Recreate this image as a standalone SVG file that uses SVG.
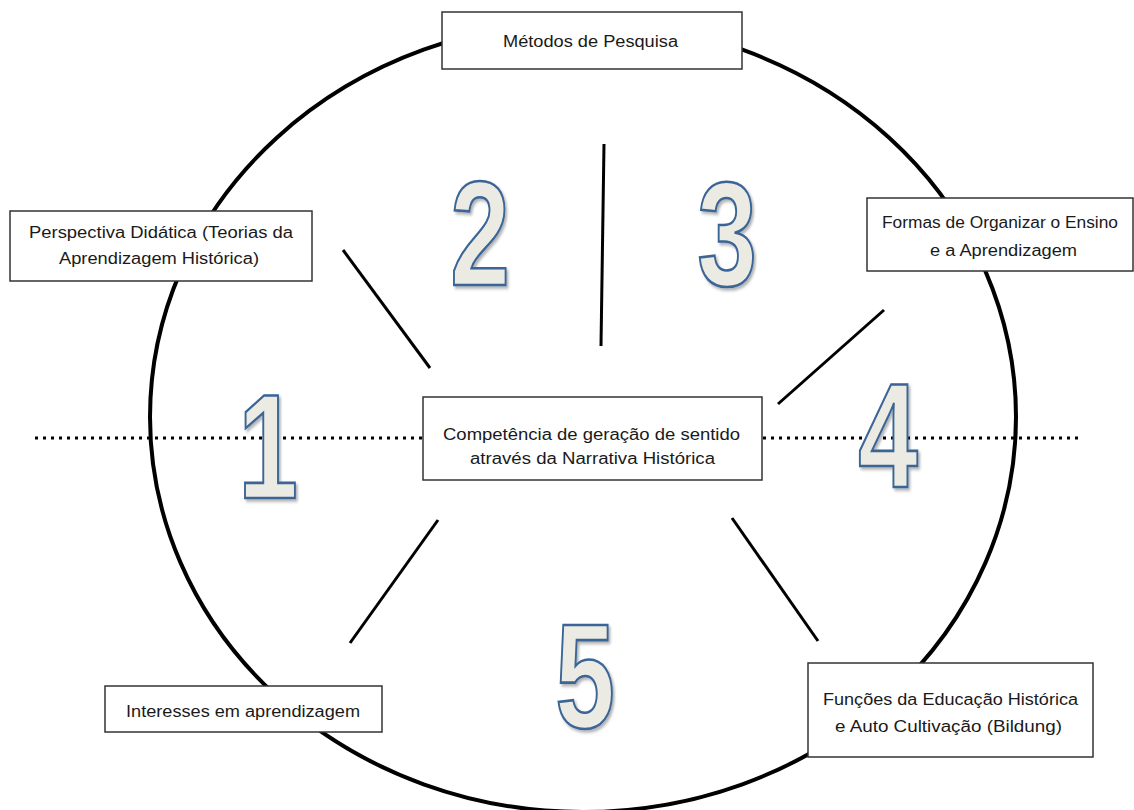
<svg xmlns="http://www.w3.org/2000/svg" width="1134" height="810" viewBox="0 0 1134 810">
<defs>
<style>
.box{fill:#fff;stroke:#333;stroke-width:1.5}
.lbl{font-family:"Liberation Sans",Arial,sans-serif;font-size:16px;fill:#1a1a1a;text-anchor:start}
.conn{stroke:#000;stroke-width:3;stroke-linecap:butt;fill:none}
.num{font-family:"Liberation Sans",Arial,sans-serif;font-weight:bold;font-size:149px;fill:#ECEBE3;stroke:#3A6596;stroke-width:2.6;text-anchor:middle;filter:url(#sh)}
</style>
<filter id="sh" x="-30%" y="-30%" width="160%" height="160%">
<feDropShadow dx="2.5" dy="2.5" stdDeviation="1.5" flood-color="#000" flood-opacity="0.3"/>
</filter>
</defs>
<rect width="1134" height="810" fill="#fff"/>
<g id="frame">
<ellipse cx="583" cy="417" rx="433" ry="395" fill="none" stroke="#000" stroke-width="4"/>
<line x1="35" y1="438" x2="1082" y2="438" stroke="#000" stroke-width="3" stroke-dasharray="3 5"/>
</g>
<g id="connectors">
<line class="conn" x1="604" y1="144" x2="601" y2="346"/>
<line class="conn" x1="343" y1="250" x2="430" y2="368"/>
<line class="conn" x1="884" y1="310" x2="778" y2="404"/>
<line class="conn" x1="438" y1="520" x2="350" y2="643"/>
<line class="conn" x1="732" y1="518" x2="818" y2="641"/>
</g>
<g id="metodos">
<rect class="box" x="442" y="12" width="300" height="57"/>
<text class="lbl" x="503" y="47" textLength="175" lengthAdjust="spacingAndGlyphs">Métodos de Pesquisa</text>
</g>
<g id="perspectiva">
<rect class="box" x="10" y="211" width="302" height="70"/>
<text class="lbl" x="29" y="238" textLength="264" lengthAdjust="spacingAndGlyphs">Perspectiva Didática (Teorias da</text>
<text class="lbl" x="59" y="264" textLength="200" lengthAdjust="spacingAndGlyphs">Aprendizagem Histórica)</text>
</g>
<g id="centro">
<rect class="box" x="423" y="397" width="339" height="83"/>
<text class="lbl" x="443" y="440" textLength="297" lengthAdjust="spacingAndGlyphs">Competência de geração de sentido</text>
<text class="lbl" x="470" y="464" textLength="245" lengthAdjust="spacingAndGlyphs">através da Narrativa Histórica</text>
</g>
<g id="formas">
<rect class="box" x="867" y="198" width="266" height="73"/>
<text class="lbl" x="882" y="228" textLength="236" lengthAdjust="spacingAndGlyphs">Formas de Organizar o Ensino</text>
<text class="lbl" x="930" y="256" textLength="147" lengthAdjust="spacingAndGlyphs">e a Aprendizagem</text>
</g>
<g id="funcoes">
<rect class="box" x="808" y="663" width="285" height="94"/>
<text class="lbl" x="823" y="705" textLength="255" lengthAdjust="spacingAndGlyphs">Funções da Educação Histórica</text>
<text class="lbl" x="835" y="732" textLength="227" lengthAdjust="spacingAndGlyphs">e Auto Cultivação (Bildung)</text>
</g>
<g id="interesses">
<rect class="box" x="105" y="686" width="277" height="46"/>
<text class="lbl" x="126" y="717" textLength="234" lengthAdjust="spacingAndGlyphs">Interesses em aprendizagem</text>
</g>
<g id="n1"><text class="num" transform="translate(268,498) scale(0.72,1)">1</text></g>
<g id="n2"><text class="num" transform="translate(480,285) scale(0.72,1)">2</text></g>
<g id="n3"><text class="num" transform="translate(727,285) scale(0.72,1)">3</text></g>
<g id="n4"><text class="num" transform="translate(888,487) scale(0.72,1)">4</text></g>
<g id="n5"><text class="num" transform="translate(585,728) scale(0.72,1)">5</text></g>
</svg>
